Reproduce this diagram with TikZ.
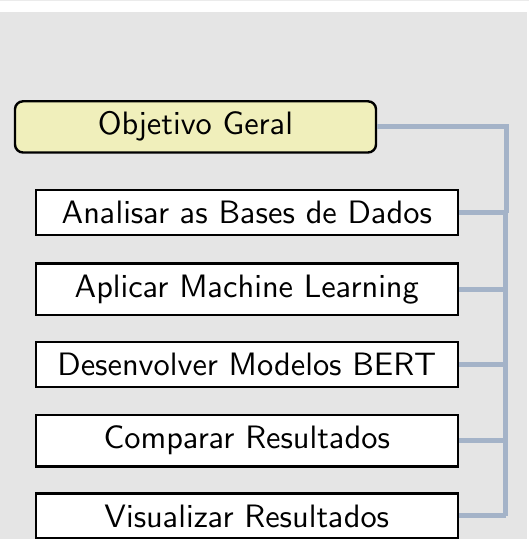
\documentclass[tikz,border=0pt]{standalone}
\usetikzlibrary{positioning}
\definecolor{bggray}{HTML}{E5E5E5}
\definecolor{topline}{HTML}{EBEBEB}
\definecolor{goalfill}{HTML}{F0EFBB}
\definecolor{linkblue}{HTML}{A4B3C8}
\font\boxfont=cmss10 at 16.2pt
\tikzset{
  boxbase/.style={draw=black, line width=1.2pt, inner xsep=4pt, inner ysep=5.6pt,
    font=\boxfont},
  goalbox/.style={boxbase, fill=goalfill, rounded corners=4pt, minimum width=180.5pt},
  taskbox/.style={boxbase, fill=white, minimum width=211pt},
  link/.style={draw=linkblue, line width=2.5pt}
}
\begin{document}
\begin{tikzpicture}[x=0.5pt,y=-0.5pt]
  \useasboundingbox (0,0) rectangle (529,539);
  \fill[white] (0,0) rectangle (529,539);
  \fill[topline] (0,0) rectangle (529,1.2);
  \fill[bggray] (0,12.3) rectangle (527.3,539);

  \node[goalbox, anchor=north] (goal) at (195.5,100.1) {Objetivo Geral};
  \node[taskbox, anchor=north] (t1) at (247,188.9) {Analisar as Bases de Dados};
  \node[taskbox, anchor=north] (t2) at (247,262.3) {Aplicar Machine Learning};
  \node[taskbox, anchor=north] (t3) at (247,340.6) {Desenvolver Modelos BERT};
  \node[taskbox, anchor=north] (t4) at (247,413.9) {Comparar Resultados};
  \node[taskbox, anchor=north] (t5) at (247,492.3) {Visualizar Resultados};

  \coordinate (j0) at (506.8,0);
  \coordinate (jx) at (505.5,0);

  \draw[link] (goal.east) -- (goal.east -| j0) -- (t1.east -| j0);
  \draw[link] (t1.east) -- (t1.east -| j0);
  \draw[link] (t1.east -| jx) -- (t5.east -| jx);
  \draw[link] (t2.east) -- (t2.east -| jx);
  \draw[link] (t3.east) -- (t3.east -| jx);
  \draw[link] (t4.east) -- (t4.east -| jx);
  \draw[link, line join=miter] (t5.east) -- (t5.east -| jx);
\end{tikzpicture}
\end{document}
